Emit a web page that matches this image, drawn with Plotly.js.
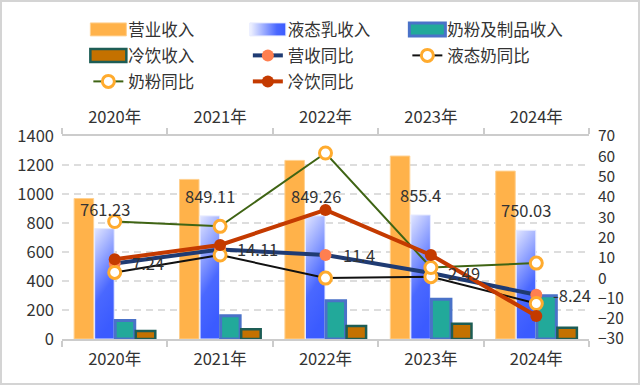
<!DOCTYPE html>
<html>
<head>
<meta charset="utf-8">
<script src="https://cdn.plot.ly/plotly-3.0.1.min.js"></script>
<style>
html,body{margin:0;padding:0;background:#fff;}
#wrap{position:relative;width:640px;height:385px;}
#chart{width:640px;height:385px;}
#frame{position:absolute;left:0;top:0;width:636px;height:381px;border:2px solid #d4d4d4;pointer-events:none;}
</style>
</head>
<body>
<div id="wrap"><div id="chart"></div><div id="frame"></div></div>
<script>
// ---- data ----
const years = ['2020年', '2021年', '2022年', '2023年', '2024年'];
const revenue = [968.9, 1100.6, 1231.7, 1261.8, 1157.8];
const liquid = [761.23, 849.11, 849.26, 855.4, 750.03];
const powder = [128, 160, 263, 275, 298];
const coldDrink = [56, 68, 90, 106, 78];
const revYoY = [7.24, 14.11, 11.4, 2.49, -8.24];
const liquidYoY = [2.8, 11.4, 0.0, 0.7, -12.5];
const powderYoY = [27.9, 25.5, 61.6, 5.2, 7.4];
const coldYoY = [9.3, 16.3, 33.6, 11.4, -18.7];
const liquidLabels = ['761.23', '849.11', '849.26', '855.4', '750.03'];
const revYoYLabels = ['7.24', '14.11', '11.4', '2.49', '-8.24'];

const FONT = '"Noto Sans CJK SC", "Noto Sans", sans-serif';

const traces = [
  {type: 'bar', name: '营业收入', x: years, y: revenue,
   marker: {color: '#FFB24A', line: {color: '#FFD08F', width: 1}}},
  {type: 'bar', name: '液态乳收入', x: years, y: liquid,
   marker: {color: '#5B75FF', line: {color: '#E6EAFF', width: 1}}},
  {type: 'bar', name: '奶粉及制品收入', x: years, y: powder,
   marker: {color: '#22A99A', line: {color: '#4A72C8', width: 3}}},
  {type: 'bar', name: '冷饮收入', x: years, y: coldDrink,
   marker: {color: '#C47100', line: {color: '#1D5D55', width: 2.5}}},
  {type: 'scatter', mode: 'lines+markers', name: '营收同比', x: years, y: revYoY,
   xaxis: 'x2', yaxis: 'y2',
   line: {color: '#1F3B73', width: 4},
   marker: {color: '#FF7F50', size: 12}},
  {type: 'scatter', mode: 'lines+markers', name: '液态奶同比', x: years, y: liquidYoY,
   xaxis: 'x2', yaxis: 'y2',
   line: {color: '#111111', width: 2},
   marker: {color: '#FFFFFF', size: 12, line: {color: '#FFAB2E', width: 3}}},
  {type: 'scatter', mode: 'lines+markers', name: '奶粉同比', x: years, y: powderYoY,
   xaxis: 'x2', yaxis: 'y2',
   line: {color: '#3F6414', width: 2},
   marker: {color: '#FFFFFF', size: 12, line: {color: '#FFAB2E', width: 3}}},
  {type: 'scatter', mode: 'lines+markers', name: '冷饮同比', x: years, y: coldYoY,
   xaxis: 'x2', yaxis: 'y2',
   line: {color: '#C43A00', width: 4},
   marker: {color: '#C43A00', size: 12}}
];

const annotations = [];
years.forEach((yr, i) => {
  annotations.push({x: yr, y: liquid[i], xref: 'x', yref: 'y', text: liquidLabels[i],
    showarrow: false, xshift: -10, yshift: 20, font: {size: 16.5, color: '#333', family: FONT}});
  annotations.push({x: yr, y: revYoY[i], xref: 'x2', yref: 'y2', text: revYoYLabels[i],
    showarrow: false, xanchor: 'left', xshift: 15, yshift: 0, font: {size: 16.5, color: '#333', family: FONT}});
});

const xCommon = {
  type: 'category', categoryorder: 'array', categoryarray: years, range: [-0.5, 4.5],
  showline: true, linecolor: '#CCCCCC', linewidth: 2,
  ticks: 'outside', tickson: 'boundaries', ticklen: 6, tickcolor: '#CCCCCC', tickwidth: 2,
  showgrid: false, zeroline: false, ticklabelstandoff: 4,
  tickfont: {size: 16.5, color: '#333', family: FONT}
};

const layout = {
  width: 640, height: 385,
  margin: {l: 62, r: 51, t: 133, b: 46},
  paper_bgcolor: '#FFFFFF', plot_bgcolor: '#FFFFFF',
  font: {family: FONT, size: 16, color: '#333'},
  barmode: 'group', bargap: 0.22, bargroupgap: 0.05,
  showlegend: true,
  legend: {orientation: 'h', x: 0.05, xanchor: 'left', y: 1.61, yanchor: 'top',
    entrywidth: 120, font: {size: 16.5, color: '#333', family: FONT},
    traceorder: 'normal', bgcolor: 'rgba(0,0,0,0)'},
  xaxis: Object.assign({}, xCommon, {anchor: 'y'}),
  xaxis2: Object.assign({}, xCommon, {overlaying: 'x', side: 'top', anchor: 'y2'}),
  yaxis: {range: [0, 1400], dtick: 200, tick0: 0, showgrid: true, gridcolor: '#DDDDDD',
    griddash: '7px,5px', gridwidth: 1.5, zeroline: false, showline: false, ticks: '',
    ticklabelstandoff: 7,
    tickfont: {size: 16.5, color: '#333', family: FONT}},
  yaxis2: {range: [-30, 70], dtick: 10, tick0: 0, overlaying: 'y', side: 'right', anchor: 'x2',
    showgrid: false, zeroline: false, showline: false, ticks: '', ticklabelstandoff: 8,
    tickfont: {size: 15.5, color: '#333', family: FONT}},
  annotations: annotations
};

Plotly.newPlot('chart', traces, layout, {displayModeBar: false, staticPlot: true}).then(gd => {
  const svg = gd.querySelector('svg.main-svg');
  const NS = 'http://www.w3.org/2000/svg';
  let defs = svg.querySelector('defs');
  if (!defs) { defs = document.createElementNS(NS, 'defs'); svg.insertBefore(defs, svg.firstChild); }
  function grad(id, x2, y2, stops) {
    const g = document.createElementNS(NS, 'linearGradient');
    g.setAttribute('id', id);
    g.setAttribute('x1', '0'); g.setAttribute('y1', '0');
    g.setAttribute('x2', x2); g.setAttribute('y2', y2);
    stops.forEach(s => {
      const st = document.createElementNS(NS, 'stop');
      st.setAttribute('offset', s[0]); st.setAttribute('stop-color', s[1]);
      g.appendChild(st);
    });
    defs.appendChild(g);
  }
  grad('lqV', '0.25', '1', [['0', '#E2E6FF'], ['0.65', '#4A68FF'], ['1', '#3B5BFF']]);
  grad('lqH', '1', '0', [['0', '#F2F4FF'], ['0.75', '#4A68FF'], ['1', '#3B5BFF']]);
  const barTraces = gd.querySelectorAll('.barlayer .trace');
  if (barTraces[1]) barTraces[1].querySelectorAll('path').forEach(p => { p.style.fill = 'url(#lqV)'; });
  const legendItems = gd.querySelectorAll('.legend .traces');
  let x0 = 0, y0 = 0;
  if (legendItems[0]) {
    const m = /translate\(([-\d.]+)[ ,]+([-\d.]+)\)/.exec(legendItems[0].getAttribute('transform') || '');
    if (m) { x0 = parseFloat(m[1]); y0 = parseFloat(m[2]); }
  }
  legendItems.forEach((it, i) => {
    const col = i % 3, row = Math.floor(i / 3);
    it.setAttribute('transform', 'translate(' + (x0 + col * 159.5) + ',' + (y0 + row * 26) + ')');
    if (i < 4) {
      const p = it.querySelector('.legendpoints path');
      if (p) {
        p.setAttribute('d', 'M-18,6.5H18V-6.5H-18Z');
        if (i === 1) p.style.fill = 'url(#lqH)';
      }
    }
  });
  gd.querySelectorAll('.legend .scrollbox, .legend').forEach(el => el.removeAttribute('clip-path'));
});
</script>
</body>
</html>
